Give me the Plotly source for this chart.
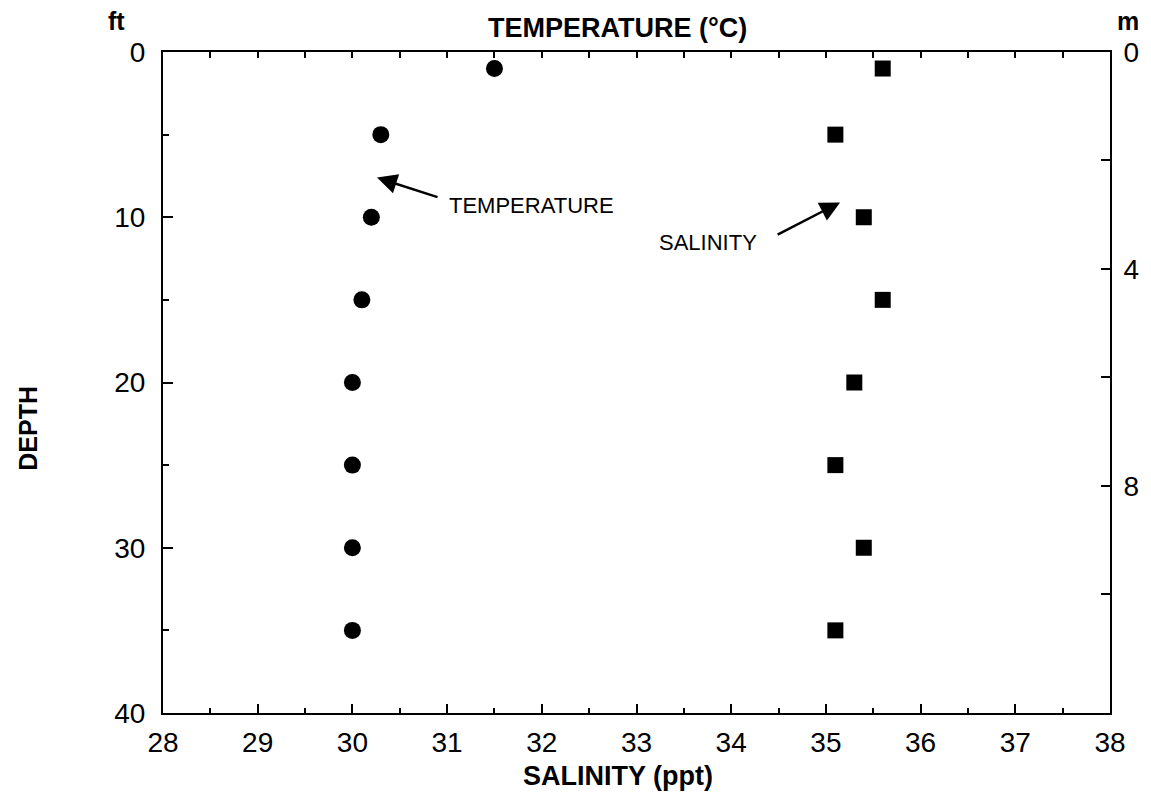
import plotly.graph_objects as go

# Depth profile of temperature and salinity
depth_ft = [1, 5, 10, 15, 20, 25, 30, 35]
temperature_c = [31.5, 30.3, 30.2, 30.1, 30.0, 30.0, 30.0, 30.0]
salinity_ppt = [35.6, 35.1, 35.4, 35.6, 35.3, 35.1, 35.4, 35.1]

x_range = [28, 38]
depth_range_ft = [40, 0]
FT_PER_M = 3.28084
meter_ticks = [0, 2, 4, 6, 8, 10]
meter_labels = ["0", "", "4", "", "8", ""]

FONT = "Liberation Sans, Arial, sans-serif"
TICK_SIZE = 28
TITLE_SIZE = 27

fig = go.Figure()

fig.add_trace(go.Scatter(
    x=temperature_c, y=depth_ft, mode="markers", xaxis="x2", yaxis="y",
    marker=dict(symbol="circle", size=17, color="black"),
    name="Temperature", showlegend=False,
))
fig.add_trace(go.Scatter(
    x=salinity_ppt, y=depth_ft, mode="markers", xaxis="x", yaxis="y",
    marker=dict(symbol="square", size=16, color="black"),
    name="Salinity", showlegend=False,
))
# invisible trace to activate the metre axis
fig.add_trace(go.Scatter(
    x=[None], y=[None], xaxis="x", yaxis="y2", showlegend=False, hoverinfo="skip",
))

axis_common = dict(showline=True, linecolor="black", linewidth=2,
                   ticks="inside", tickcolor="black", tickwidth=2,
                   showgrid=False, zeroline=False)

fig.update_layout(
    width=1151, height=795,
    margin=dict(l=163, r=36, t=52, b=82),
    paper_bgcolor="white", plot_bgcolor="white",
    font=dict(family=FONT, color="black", size=22),
    xaxis=dict(range=x_range, dtick=1, ticklen=9,
               minor=dict(dtick=0.5, ticklen=5, ticks="inside", tickcolor="black", tickwidth=2),
               tickfont=dict(size=TICK_SIZE), ticklabelstandoff=3,
               **axis_common),
    xaxis2=dict(range=x_range, overlaying="x", side="top", dtick=0.5, ticklen=6,
                showticklabels=False, **axis_common),
    yaxis=dict(range=depth_range_ft, dtick=10, ticklen=10,
               minor=dict(dtick=5, ticklen=6, ticks="inside", tickcolor="black", tickwidth=2),
               tickfont=dict(size=TICK_SIZE), ticklabelstandoff=10,
               **axis_common),
    yaxis2=dict(range=[depth_range_ft[0] / FT_PER_M, depth_range_ft[1] / FT_PER_M],
                overlaying="y", side="right", tickvals=meter_ticks, ticktext=meter_labels,
                ticklen=9, tickfont=dict(size=TICK_SIZE), ticklabelstandoff=6,
                **axis_common),
    showlegend=False,
)

annotations = [
    dict(text="<b>TEMPERATURE (°C)</b>", xref="paper", yref="paper", x=0.48, y=1.0,
         yshift=24, showarrow=False, font=dict(size=TITLE_SIZE), xanchor="center", yanchor="middle"),
    dict(text="<b>SALINITY (ppt)</b>", xref="paper", yref="paper", x=0.48, y=0,
         yshift=-63, showarrow=False, font=dict(size=TITLE_SIZE), xanchor="center", yanchor="middle"),
    dict(text="<b>DEPTH</b>", xref="paper", yref="paper", x=0, y=0.43, xshift=-135,
         textangle=-90, showarrow=False, font=dict(size=25), xanchor="center", yanchor="middle"),
    dict(text="<b>ft</b>", xref="paper", yref="paper", x=0, y=1.0, xshift=-47, yshift=31,
         showarrow=False, font=dict(size=25), xanchor="center", yanchor="middle"),
    dict(text="<b>m</b>", xref="paper", yref="paper", x=1, y=1.0, xshift=18, yshift=31,
         showarrow=False, font=dict(size=25), xanchor="center", yanchor="middle"),
    # callout labels with arrows
    dict(text="TEMPERATURE", x=31.0, y=9.3, xref="x", yref="y", showarrow=False,
         xanchor="left", yanchor="middle", font=dict(size=22)),
    dict(text="", x=30.26, y=7.6, xref="x", yref="y", showarrow=True, ax=62, ay=20,
         arrowhead=2, arrowsize=1.6, arrowwidth=2.5, arrowcolor="black"),
    dict(text="SALINITY", x=33.22, y=11.55, xref="x", yref="y", showarrow=False,
         xanchor="left", yanchor="middle", font=dict(size=22)),
    dict(text="", x=35.15, y=9.1, xref="x", yref="y", showarrow=True, ax=-64, ay=33,
         arrowhead=2, arrowsize=1.6, arrowwidth=2.5, arrowcolor="black"),
]
fig.update_layout(annotations=annotations)

fig.write_html("out.html")
